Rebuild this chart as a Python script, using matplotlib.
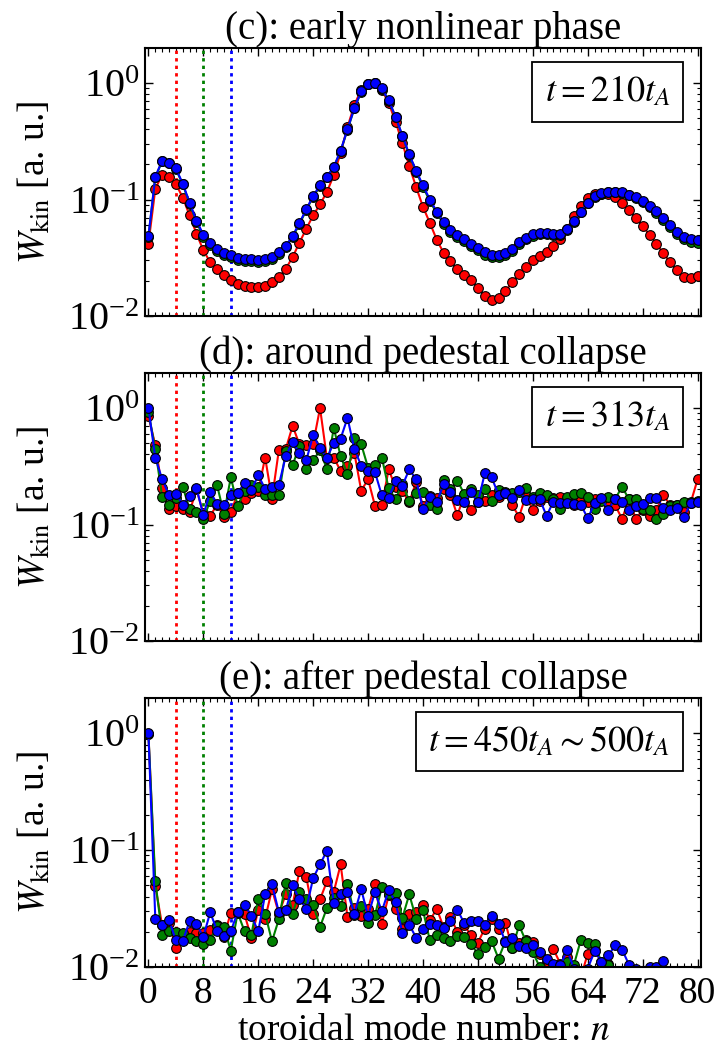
import numpy as np
import matplotlib
matplotlib.use("Agg")
import matplotlib.pyplot as plt
from matplotlib.ticker import MultipleLocator, LogLocator, NullFormatter

plt.rcParams['font.family'] = 'serif'
plt.rcParams['font.serif'] = ['Liberation Serif', 'DejaVu Serif']
plt.rcParams['mathtext.fontset'] = 'stix'

n_modes = np.arange(81)

# ---------------- panel (c) ----------------
c_red = [0.0418, 0.123, 0.164, 0.157, 0.136, 0.104, 0.073, 0.051, 0.0366, 0.029,
         0.0251, 0.0226, 0.0204, 0.0189, 0.018, 0.0177, 0.0177, 0.0181, 0.0195, 0.0215,
         0.0254, 0.032, 0.0426, 0.0562, 0.073, 0.091, 0.116, 0.162, 0.252, 0.418,
         0.65, 0.877, 0.99, 1.0, 0.876, 0.672, 0.467, 0.304, 0.194, 0.128,
         0.0864, 0.063, 0.0452, 0.0349, 0.0294, 0.0253, 0.0226, 0.0202, 0.0174, 0.0148,
         0.0136, 0.0142, 0.0163, 0.0195, 0.023, 0.0266, 0.030, 0.0327, 0.0354, 0.0396,
         0.0458, 0.0562, 0.0718, 0.0888, 0.104, 0.111, 0.112, 0.111, 0.1055, 0.0936,
         0.081, 0.0695, 0.0589, 0.0499, 0.0418, 0.0349, 0.0288, 0.0246, 0.0218, 0.0213, 0.0219]
c_green = [0.0475, 0.155, 0.213, 0.204, 0.182, 0.135, 0.092, 0.064, 0.048, 0.041,
           0.0365, 0.0337, 0.032, 0.0305, 0.0299, 0.0295, 0.0293, 0.0296, 0.031, 0.0342,
           0.039, 0.0475, 0.0615, 0.081, 0.106, 0.130, 0.155, 0.189, 0.260, 0.398,
           0.605, 0.843, 0.985, 1.0, 0.898, 0.706, 0.512, 0.350, 0.240, 0.173,
           0.128, 0.097, 0.0762, 0.0620, 0.0530, 0.0477, 0.0437, 0.0401, 0.0370, 0.0337,
           0.0318, 0.0319, 0.0333, 0.0364, 0.0415, 0.0455, 0.0487, 0.0505, 0.0503, 0.0495,
           0.0497, 0.0547, 0.0640, 0.0778, 0.0932, 0.106, 0.1125, 0.1155, 0.116, 0.1148,
           0.1085, 0.1035, 0.0952, 0.0865, 0.0770, 0.0672, 0.0580, 0.0507, 0.0458, 0.0436, 0.0426]
c_blue = [0.0486, 0.157, 0.216, 0.207, 0.185, 0.137, 0.094, 0.066, 0.050, 0.0426,
          0.0378, 0.0349, 0.0331, 0.0316, 0.031, 0.0306, 0.0304, 0.0306, 0.032, 0.0352,
          0.040, 0.0486, 0.063, 0.0826, 0.1076, 0.132, 0.157, 0.191, 0.263, 0.401,
          0.609, 0.847, 0.987, 1.0, 0.90, 0.709, 0.516, 0.354, 0.244, 0.177,
          0.132, 0.100, 0.0788, 0.0642, 0.0551, 0.0496, 0.0455, 0.0418, 0.0386, 0.0352,
          0.0333, 0.0334, 0.0347, 0.0378, 0.0429, 0.047, 0.0502, 0.052, 0.0518, 0.0509,
          0.0509, 0.0558, 0.065, 0.0788, 0.0942, 0.107, 0.1135, 0.1165, 0.117, 0.116,
          0.110, 0.1055, 0.0974, 0.0888, 0.0793, 0.0695, 0.060, 0.0526, 0.0477, 0.0455, 0.0446]

# ---------------- panel (d) ----------------
d_red = [0.849, 0.480, 0.205, 0.135, 0.143, 0.135, 0.129, 0.200, 0.125, 0.119,
         0.148, 0.117, 0.127, 0.185, 0.165, 0.188, 0.194, 0.376, 0.167, 0.435,
         0.443, 0.702, 0.489, 0.480, 0.496, 1.0, 0.371, 0.376, 0.288, 0.321,
         0.412, 0.195, 0.245, 0.145, 0.147, 0.297, 0.208, 0.194, 0.155, 0.233,
         0.145, 0.175, 0.170, 0.20, 0.18, 0.12, 0.178, 0.133, 0.155, 0.159,
         0.18, 0.172, 0.185, 0.146, 0.117, 0.178, 0.133, 0.158, 0.172, 0.170,
         0.172, 0.162, 0.146, 0.165, 0.155, 0.167, 0.165, 0.152, 0.146, 0.112,
         0.165, 0.112, 0.133, 0.119, 0.133, 0.18, 0.147, 0.146, 0.128, 0.154, 0.244]
d_green = [0.92, 0.443, 0.173, 0.146, 0.17, 0.211, 0.135, 0.127, 0.111, 0.160,
           0.218, 0.123, 0.254, 0.145, 0.194, 0.218, 0.21, 0.179, 0.179, 0.178,
           0.426, 0.324, 0.47, 0.299, 0.357, 0.434, 0.299, 0.675, 0.386, 0.271,
           0.554, 0.489, 0.307, 0.324, 0.376, 0.204, 0.166, 0.221, 0.160, 0.185,
           0.189, 0.148, 0.135, 0.241, 0.20, 0.238, 0.184, 0.20, 0.18, 0.20,
           0.158, 0.196, 0.19, 0.185, 0.19, 0.205, 0.173, 0.185, 0.178, 0.165,
           0.135, 0.173, 0.182, 0.185, 0.173, 0.135, 0.160, 0.173, 0.166, 0.211,
           0.165, 0.165, 0.137, 0.133, 0.111, 0.123, 0.145, 0.147, 0.155, 0.157, 0.16]
d_blue = [1.0, 0.376, 0.245, 0.178, 0.184, 0.148, 0.176, 0.206, 0.120, 0.190,
          0.150, 0.148, 0.179, 0.188, 0.226, 0.198, 0.264, 0.203, 0.208, 0.218,
          0.386, 0.515, 0.410, 0.357, 0.584, 0.452, 0.371, 0.502, 0.547, 0.822,
          0.447, 0.319, 0.290, 0.282, 0.178, 0.170, 0.236, 0.216, 0.297, 0.244,
          0.135, 0.173, 0.155, 0.221, 0.19, 0.162, 0.157, 0.190, 0.155, 0.275,
          0.254, 0.180, 0.185, 0.170, 0.197, 0.163, 0.165, 0.165, 0.119, 0.157,
          0.152, 0.152, 0.150, 0.148, 0.113, 0.152, 0.170, 0.133, 0.167, 0.157,
          0.133, 0.145, 0.150, 0.170, 0.170, 0.140, 0.133, 0.140, 0.115, 0.153, 0.157]

# ---------------- panel (e) ----------------
e_red = [0.98, 0.0492, 0.0227, 0.0239, 0.0146, 0.0187, 0.020, 0.0194, 0.0195, 0.0207,
         0.023, 0.0182, 0.0291, 0.0295, 0.0282, 0.0177, 0.0305, 0.0259, 0.0461, 0.0286,
         0.0418, 0.034, 0.0662, 0.0588, 0.0286, 0.0379, 0.054, 0.0438, 0.0754, 0.0268,
         0.032, 0.0273, 0.0315, 0.0509, 0.0235, 0.0411, 0.0315, 0.0213, 0.0286, 0.0295,
         0.0341, 0.025, 0.0315, 0.0219, 0.0268, 0.020, 0.0227, 0.0187, 0.0162, 0.0213,
         0.0256, 0.0213, 0.024, 0.0145, 0.0159, 0.0169, 0.0164, 0.013, 0.0111, 0.0142,
         0.0107, 0.0122, 0.0100, 0.0082, 0.013, 0.0139, 0.0111, 0.0107, 0.0085, 0.007,
         0.006, 0.0055, 0.005, 0.005, 0.005, 0.005, 0.005, 0.005, 0.005, 0.005, 0.005]
e_green = [0.98, 0.0543, 0.0187, 0.0202, 0.020, 0.0196, 0.0178, 0.0166, 0.0157, 0.0169,
           0.0224, 0.0219, 0.0138, 0.0291, 0.0202, 0.0189, 0.0384, 0.0286, 0.0166, 0.0256,
           0.0526, 0.0286, 0.0438, 0.0379, 0.0341, 0.022, 0.032, 0.0391, 0.033, 0.0516,
           0.0279, 0.0335, 0.0239, 0.0276, 0.0483, 0.0418, 0.0431, 0.0264, 0.0418, 0.0259,
           0.0305, 0.0169, 0.0187, 0.0177, 0.0166, 0.0185, 0.0182, 0.0156, 0.013, 0.0149,
           0.0166, 0.0118, 0.0166, 0.0144, 0.0227, 0.0166, 0.0134, 0.010, 0.0091, 0.0085,
           0.009, 0.011, 0.0105, 0.0171, 0.016, 0.0157, 0.011, 0.0103, 0.008, 0.006,
           0.0055, 0.005, 0.005, 0.005, 0.005, 0.005, 0.005, 0.005, 0.005, 0.005, 0.005]
e_blue = [1.0, 0.0259, 0.023, 0.0254, 0.0169, 0.0167, 0.0247, 0.0233, 0.0182, 0.0293,
          0.0205, 0.0184, 0.0202, 0.0295, 0.0341, 0.0273, 0.0202, 0.0418, 0.0509, 0.0295,
          0.0305, 0.0499, 0.0379, 0.0315, 0.0577, 0.0754, 0.0987, 0.0355, 0.0424, 0.0438,
          0.0286, 0.0461, 0.0273, 0.0438, 0.030, 0.0452, 0.036, 0.0195, 0.023, 0.0178,
          0.0213, 0.0235, 0.0227, 0.0217, 0.0249, 0.0309, 0.0238, 0.0247, 0.0246, 0.0227,
          0.0273, 0.0235, 0.0164, 0.0177, 0.015, 0.0145, 0.0153, 0.0134, 0.0118, 0.0107,
          0.0103, 0.0139, 0.0097, 0.0091, 0.0097, 0.0137, 0.0111, 0.0126, 0.0153, 0.0141,
          0.0105, 0.0097, 0.0091, 0.0100, 0.0100, 0.0112, 0.008, 0.007, 0.0065, 0.006, 0.0055]

titles = ['(c): early nonlinear phase', '(d): around pedestal collapse',
          '(e): after pedestal collapse']
time_labels = [r'$t=210t_A$', r'$t=313t_A$', r'$t=450t_A\sim500t_A$']
marker_lines_n = [4, 8, 12]
series_colors = ['r', 'g', 'b']
xticks = [0, 8, 16, 24, 32, 40, 48, 56, 64, 72, 80]

panels = [(c_red, c_green, c_blue), (d_red, d_green, d_blue), (e_red, e_green, e_blue)]

fig = plt.figure(figsize=(7.23, 10.56), dpi=100)
W, H = 723.0, 1056.0
left, right = 145, 701
tops = [48, 373, 698]
bots = [316, 641, 967]

for i, (series, title, tl) in enumerate(zip(panels, titles, time_labels)):
    ax = fig.add_axes([left / W, 1 - bots[i] / H, (right - left) / W, (bots[i] - tops[i]) / H])
    for xv, col in zip(marker_lines_n, series_colors):
        ax.axvline(xv, color=col, ls=(0, (1.2, 1.5)), lw=2)
    for vals, col in zip(series, series_colors):
        ax.plot(n_modes, vals, '-o', color=col, lw=1.5, ms=7,
                mec='k', mew=0.8)
    ax.set_yscale('log')
    ax.set_ylim(1e-2, 2.0)
    ax.set_xlim(-0.5, 80.5)
    ax.set_xticks(xticks)
    ax.xaxis.set_minor_locator(MultipleLocator(1))
    ax.yaxis.set_major_locator(LogLocator(base=10, numticks=10))
    ax.yaxis.set_minor_locator(LogLocator(base=10, subs=np.arange(2, 10) * 0.1 * 10, numticks=10))
    ax.yaxis.set_minor_formatter(NullFormatter())
    ax.tick_params(which='both', direction='in', top=True, right=True)
    ax.tick_params(which='major', length=6, width=1, pad=4)
    ax.tick_params(axis='y', which='major', labelsize=29)
    ax.tick_params(axis='x', which='major', pad=7, labelsize=27)
    ax.tick_params(which='minor', length=3, width=0.8)
    for sp in ax.spines.values():
        sp.set_linewidth(1.5)
    if i < 2:
        ax.set_xticklabels([])
    else:
        ax.set_xlabel(r'toroidal mode number: $n$', fontsize=27, labelpad=2)
    ax.set_ylabel(r'$W_{\rm kin}$ [a. u.]', fontsize=27)
    ax.yaxis.set_label_coords(-0.165, 0.5)
    ax.set_title(title, fontsize=28, pad=3)
    ax.text(0.945, 0.90, tl, transform=ax.transAxes, ha='right', va='top', fontsize=26,
            bbox=dict(boxstyle='square,pad=0.35', fc='white', ec='black', lw=1.3))

fig.savefig('out.png', dpi=100)
